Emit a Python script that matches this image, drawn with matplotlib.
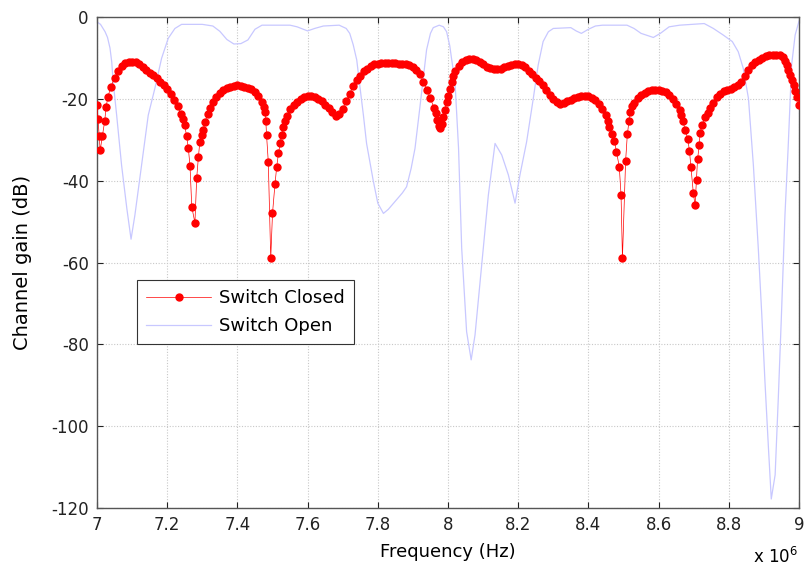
import matplotlib
matplotlib.use("Agg")
import matplotlib.pyplot as plt

# ---------------- data (frequency in MHz, gain in dB) ----------------
closed_f = [7.000, 7.003, 7.006, 7.009, 7.015, 7.022, 7.026, 7.031, 7.040, 7.050,
            7.060, 7.070, 7.080, 7.090, 7.100, 7.110, 7.120, 7.130, 7.140, 7.150,
            7.160, 7.170, 7.180, 7.190, 7.200, 7.210, 7.220, 7.230, 7.240, 7.245,
            7.250, 7.255, 7.260, 7.265, 7.270, 7.279, 7.284, 7.289, 7.293, 7.298,
            7.303, 7.308, 7.315, 7.322, 7.330, 7.340, 7.350, 7.360, 7.370, 7.380,
            7.390, 7.400, 7.410, 7.420, 7.430, 7.440, 7.450, 7.460, 7.469, 7.475,
            7.479, 7.481, 7.483, 7.488, 7.495, 7.500, 7.507, 7.512, 7.517, 7.522,
            7.526, 7.530, 7.535, 7.540, 7.550, 7.560, 7.570, 7.580, 7.590, 7.600,
            7.610, 7.620, 7.630, 7.640, 7.650, 7.660, 7.670, 7.680, 7.690, 7.700,
            7.710, 7.720, 7.730, 7.740, 7.750, 7.760, 7.770, 7.780, 7.790, 7.800,
            7.810, 7.820, 7.830, 7.840, 7.850, 7.860, 7.870, 7.880, 7.890, 7.900,
            7.910, 7.920, 7.930, 7.940, 7.950, 7.960, 7.965, 7.970, 7.975, 7.978,
            7.982, 7.987, 7.991, 7.996, 8.000, 8.005, 8.010, 8.015, 8.020, 8.030,
            8.040, 8.050, 8.060, 8.070, 8.080, 8.090, 8.100, 8.110, 8.120, 8.130,
            8.140, 8.150, 8.160, 8.170, 8.180, 8.190, 8.200, 8.210, 8.220, 8.230,
            8.240, 8.250, 8.260, 8.270, 8.280, 8.290, 8.300, 8.310, 8.320, 8.330,
            8.340, 8.350, 8.360, 8.370, 8.380, 8.390, 8.400, 8.410, 8.420, 8.430,
            8.440, 8.450, 8.455, 8.460, 8.466, 8.474, 8.480, 8.488, 8.493, 8.497,
            8.506, 8.511, 8.516, 8.519, 8.525, 8.530, 8.540, 8.550, 8.560, 8.570,
            8.580, 8.590, 8.600, 8.610, 8.620, 8.630, 8.640, 8.650, 8.660, 8.665,
            8.670, 8.675, 8.683, 8.688, 8.692, 8.699, 8.704, 8.708, 8.711, 8.716,
            8.718, 8.724, 8.732, 8.740, 8.746, 8.755, 8.765, 8.775, 8.785, 8.795,
            8.805, 8.815, 8.825, 8.835, 8.845, 8.855, 8.865, 8.875, 8.885, 8.895,
            8.905, 8.915, 8.925, 8.935, 8.945, 8.955, 8.960, 8.965, 8.970, 8.975,
            8.980, 8.985, 8.990, 8.995, 9.000]
closed_db = [-21.5, -25.0, -29.0, -32.6, -29.2, -25.4, -22.0, -19.5, -17.0, -14.8,
             -13.2, -12.0, -11.3, -11.0, -10.9, -11.1, -11.6, -12.2, -12.9, -13.6,
             -14.2, -15.0, -15.8, -16.6, -17.5, -18.7, -20.2, -21.8, -23.8, -25.0,
             -26.5, -29.0, -31.9, -36.4, -46.4, -50.3, -39.4, -34.1, -30.5, -28.8,
             -27.5, -25.6, -23.8, -22.2, -20.8, -19.5, -18.5, -17.8, -17.3, -17.0,
             -16.8, -16.7, -16.8, -17.0, -17.3, -17.7, -18.4, -19.4, -20.7, -22.0,
             -23.1, -25.4, -28.8, -35.4, -59.0, -48.0, -40.9, -36.6, -33.3, -30.9,
             -28.8, -27.0, -25.5, -24.3, -22.6, -21.5, -20.7, -20.1, -19.6, -19.4,
             -19.4, -19.6, -20.0, -20.6, -21.4, -22.3, -23.3, -24.1, -23.8, -22.4,
             -20.6, -18.7, -16.9, -15.4, -14.3, -13.3, -12.6, -12.0, -11.6, -11.4,
             -11.3, -11.2, -11.2, -11.2, -11.3, -11.4, -11.5, -11.6, -11.8, -12.2,
             -12.9, -14.0, -15.8, -17.8, -19.9, -22.2, -23.5, -25.2, -26.6, -27.2,
             -26.2, -24.5, -22.8, -20.8, -19.2, -17.5, -16.0, -14.4, -13.3, -11.9,
             -11.0, -10.5, -10.2, -10.2, -10.5, -11.0, -11.6, -12.1, -12.5, -12.7,
             -12.8, -12.6, -12.3, -12.0, -11.7, -11.4, -11.4, -11.7, -12.3, -13.1,
             -14.0, -14.8, -15.6, -16.7, -17.9, -19.0, -20.0, -20.8, -21.2, -21.1,
             -20.6, -20.2, -19.8, -19.5, -19.3, -19.3, -19.4, -19.8, -20.4, -21.3,
             -22.5, -24.0, -25.5, -27.0, -28.5, -30.2, -32.9, -36.6, -43.5, -59.0,
             -35.2, -28.6, -25.4, -23.3, -21.8, -21.0, -19.9, -19.1, -18.5, -18.1,
             -17.9, -17.8, -17.8, -18.0, -18.4, -19.0, -20.0, -21.2, -22.7, -24.0,
             -25.5, -27.5, -29.7, -32.8, -36.6, -43.1, -46.0, -39.8, -34.7, -31.3,
             -28.4, -26.4, -24.5, -23.5, -22.3, -21.0, -19.5, -18.7, -18.2, -17.9,
             -17.6, -17.2, -16.6, -15.8, -14.5, -13.0, -11.8, -11.0, -10.4, -10.0,
             -9.6, -9.4, -9.3, -9.2, -9.3, -9.8, -10.8, -11.8, -13.0, -14.2,
             -15.4, -16.6, -18.2, -19.6, -21.5]

open_f = [7.000, 7.010, 7.023, 7.030, 7.037, 7.042, 7.046, 7.056, 7.070, 7.085,
          7.097, 7.108, 7.127, 7.146, 7.165, 7.184, 7.203, 7.222, 7.241, 7.300,
          7.330, 7.350, 7.370, 7.390, 7.410, 7.430, 7.450, 7.470, 7.550, 7.570,
          7.600, 7.620, 7.645, 7.690, 7.710, 7.720, 7.730, 7.740, 7.749, 7.759,
          7.768, 7.787, 7.800, 7.816, 7.830, 7.850, 7.870, 7.882, 7.895, 7.906,
          7.920, 7.930, 7.939, 7.950, 7.958, 7.975, 7.987, 7.996, 8.005, 8.010,
          8.020, 8.030, 8.039, 8.053, 8.066, 8.077, 8.096, 8.115, 8.134, 8.153,
          8.172, 8.191, 8.205, 8.224, 8.243, 8.257, 8.271, 8.286, 8.300, 8.350,
          8.365, 8.380, 8.400, 8.420, 8.440, 8.510, 8.530, 8.550, 8.585, 8.605,
          8.630, 8.660, 8.730, 8.756, 8.784, 8.810, 8.827, 8.841, 8.856, 8.870,
          8.884, 8.894, 8.903, 8.913, 8.921, 8.932, 8.941, 8.950, 8.960, 8.969,
          8.979, 8.989, 9.000]
open_db = [-1.2, -1.8, -3.6, -5.0, -7.6, -11.0, -15.8, -24.0, -36.2, -46.8,
           -54.3, -48.4, -36.2, -24.0, -17.4, -10.1, -5.2, -2.8, -1.8, -1.8,
           -2.2, -3.5, -5.5, -6.6, -6.5, -5.6, -3.0, -2.0, -2.0, -2.4,
           -3.4, -2.8, -2.2, -2.0, -2.8, -4.0, -6.8, -10.5, -17.0, -24.0,
           -30.9, -40.0, -45.5, -48.0, -47.0, -45.0, -43.0, -41.5, -37.0, -32.1,
           -22.0, -14.6, -8.0, -4.0, -2.6, -2.0, -2.4, -3.6, -7.0, -10.1,
           -16.0, -32.0, -56.5, -76.9, -83.8, -77.7, -60.6, -43.5, -30.9, -33.7,
           -38.6, -45.5, -38.6, -30.5, -19.9, -11.7, -6.0, -3.6, -2.8, -2.6,
           -3.4, -4.0, -3.0, -2.2, -2.0, -2.0, -2.8, -4.0, -5.0, -4.0,
           -2.4, -2.0, -1.6, -2.8, -4.4, -6.0, -8.5, -12.5, -19.9, -36.2,
           -56.5, -72.8, -89.1, -105.4, -117.8, -111.9, -93.2, -72.8, -48.4, -32.1,
           -11.7, -4.4, -1.0]

x_ticks = [7.0, 7.2, 7.4, 7.6, 7.8, 8.0, 8.2, 8.4, 8.6, 8.8, 9.0]
x_tick_labels = ["7", "7.2", "7.4", "7.6", "7.8", "8", "8.2", "8.4", "8.6", "8.8", "9"]
y_ticks = [0, -20, -40, -60, -80, -100, -120]

# ---------------- figure ----------------
plt.rcParams['font.family'] = ['DejaVu Sans']
fig = plt.figure(figsize=(8.06, 5.71), dpi=100)
ax = fig.add_axes([97 / 806, 63 / 571, 702 / 806, 491 / 571])

hz = 1e6
ax.plot([f * hz for f in closed_f], closed_db, '-', color='#ff0000', linewidth=0.5,
        marker='o', markersize=5.0, markerfacecolor='#ff0000', markeredgecolor='#ff0000',
        label='Switch Closed', zorder=3)
ax.plot([f * hz for f in open_f], open_db, '-', color='#c8c8ff', linewidth=0.9,
        label='Switch Open', zorder=2)

ax.set_xlim(7e6, 9e6)
ax.set_ylim(-120, 0)
ax.set_xticks([t * hz for t in x_ticks])
ax.set_xticklabels(x_tick_labels)
ax.set_yticks(y_ticks)
ax.set_yticklabels([str(v) for v in y_ticks])

ax.grid(True, linestyle=(0, (1, 1.5)), color='#c8c8c8', linewidth=0.8)
ax.set_axisbelow(True)
ax.tick_params(direction='in', top=True, right=True, length=4, width=0.8,
               labelsize=12, colors='#222222', pad=6)
for s in ax.spines.values():
    s.set_color('#555555')
    s.set_linewidth(1.0)

ax.set_xlabel('Frequency (Hz)', fontsize=13, labelpad=6)
ax.set_ylabel('Channel gain (dB)', fontsize=14, labelpad=14)
fig.text(753 / 806, 1 - 563 / 571, 'x 10$^{6}$', fontsize=12, ha='left', va='baseline')

leg = ax.legend(loc='upper left', bbox_to_anchor=(0.057, 0.464), borderaxespad=0,
                fontsize=13, frameon=True, fancybox=False, edgecolor='#333333',
                framealpha=1, handlelength=3.6, handletextpad=0.45,
                borderpad=0.5, labelspacing=0.55)
leg.get_frame().set_linewidth(0.8)

fig.savefig('out.png', dpi=100)
